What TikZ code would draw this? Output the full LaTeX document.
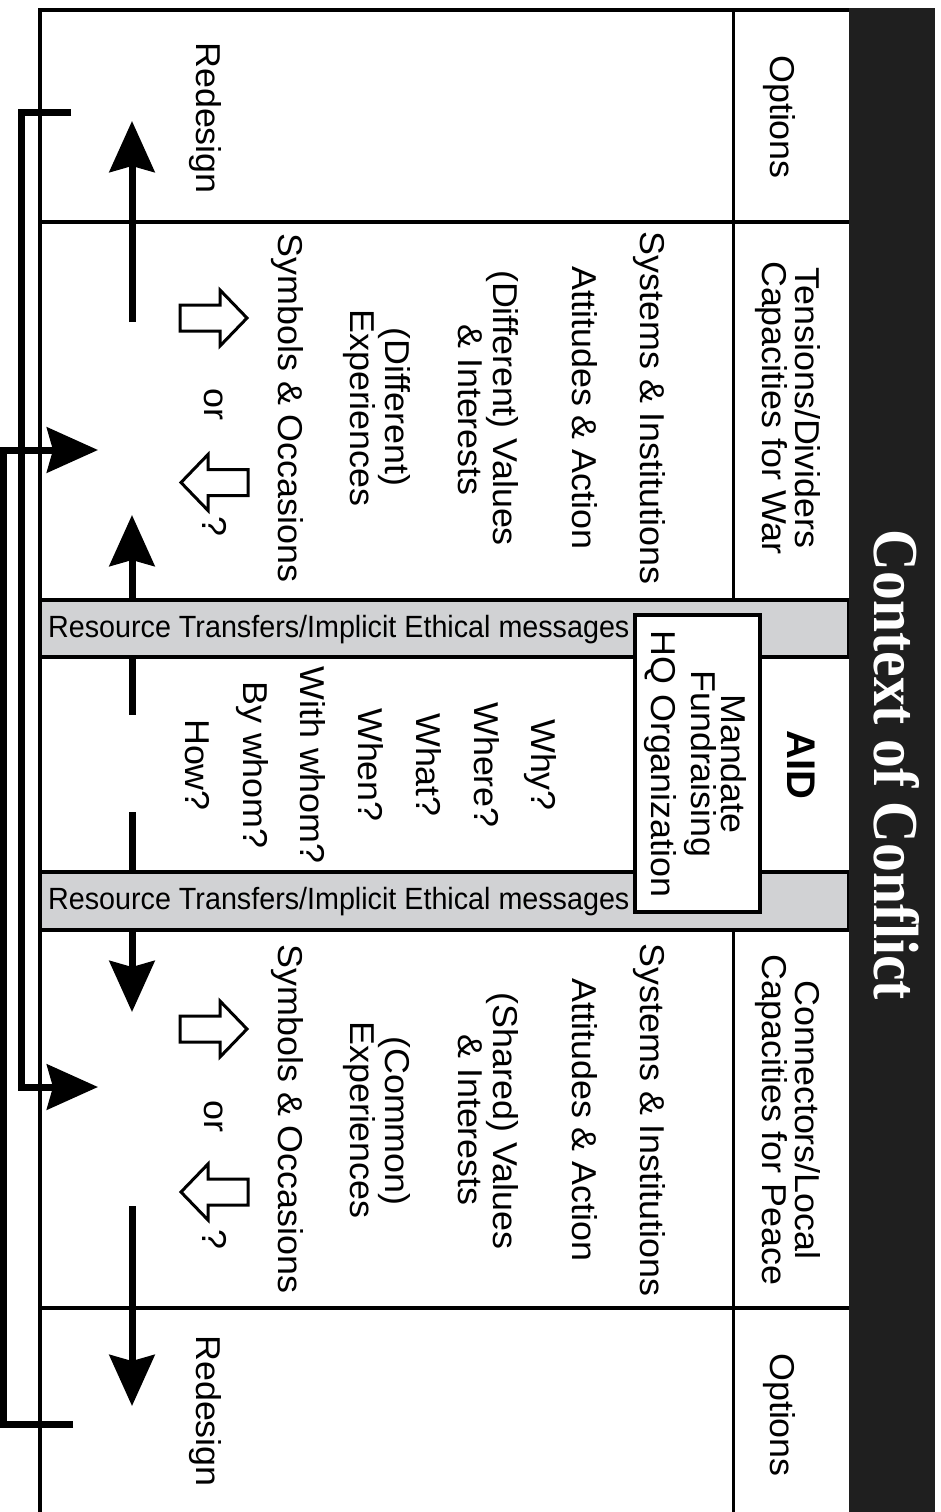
\documentclass[tikz,border=0pt]{standalone}
\usepackage{fontspec}
\setmainfont{Liberation Sans}
\newfontfamily\titlefont{Liberation Serif}[FakeStretch=0.9]
\newfontfamily\lblfont{Liberation Sans}[FakeStretch=1.04]
\newfontfamily\bandfont{Liberation Sans}[FakeStretch=0.935]
\usetikzlibrary{arrows.meta}
\definecolor{bandgray}{HTML}{D1D2D4}
\tikzset{
  lbl/.style={rotate=-90, anchor=base, inner sep=0pt, font=\lblfont\fontsize{34.5}{34}\selectfont},
  framel/.style={line width=3.5pt},
  thinl/.style={line width=3pt},
  bigarrow/.style={line width=7pt, line join=miter, -{Stealth[length=51pt,width=45pt,inset=6pt]}},
  barl/.style={line width=7pt},
  bandtxt/.style={anchor=base west, inner sep=0pt, font=\bandfont\fontsize{30.7}{30}\selectfont},
  hollow/.pic={\draw[line width=3pt, fill=white, line join=miter]
     (-33.5,-13) -- (6.5,-13) -- (6.5,-28) -- (33.5,0) -- (6.5,28) -- (6.5,13) -- (-33.5,13) -- cycle;},
}
\begin{document}
\begin{tikzpicture}[x=1pt,y=-1pt]
\useasboundingbox (0,0) rectangle (941,1512);
\fill[white] (0,0) rectangle (941,1512);

% bands
\draw[framel, fill=bandgray] (40,600) rectangle (849,657);
\draw[framel, fill=bandgray] (40,872) rectangle (849,930);

% frame and grid
\draw[framel] (40,1512) -- (40,10) -- (849,10);
\draw[thinl] (733,10) -- (733,600);
\draw[thinl] (733,930) -- (733,1512);
\draw[framel] (40,222) -- (849,222);
\draw[framel] (40,1308) -- (849,1308);

% black title bar
\fill[black!88] (849,8.25) rectangle (935,1512);
\node[rotate=-90, anchor=base, inner sep=0pt, text=white,
      font=\titlefont\bfseries\fontsize{64}{64}\selectfont] (title) at (874,765) {Context of Conflict};

% band texts
\node[bandtxt] (band1) at (48,637) {Resource Transfers/Implicit Ethical messages};
\node[bandtxt] (band2) at (48,909) {Resource Transfers/Implicit Ethical messages};

% HQ box
\node[draw, line width=3.5pt, fill=white, minimum width=125pt, minimum height=297pt, inner sep=0pt] (hq) at (697.5,763.5) {};
\node[lbl] (mand) at (721,764) {Mandate};
\node[lbl] (fund) at (691,764) {Fundraising};
\node[lbl] (hqo) at (651,764) {HQ Organization};

% AID
\node[rotate=-90, anchor=base, inner sep=0pt, font=\bfseries\fontsize{40}{40}\selectfont] (aid) at (787,765) {AID};

% questions
\node[lbl] (why) at (531,765) {Why?};
\node[lbl] (where) at (474,765) {Where?};
\node[lbl] (what) at (416,765) {What?};
\node[lbl] (when) at (358,765) {When?};
\node[lbl] (withw) at (300,765) {With whom?};
\node[lbl] (byw) at (243,765) {By whom?};
\node[lbl] (how) at (185,765) {How?};

% upper section texts
\node[lbl] (opt1) at (770,117) {Options};
\node[lbl] (red1) at (196,118) {Redesign};
\node[lbl] (ten) at (795,408) {Tensions/Dividers};
\node[lbl] (capw) at (762,408) {Capacities for War};
\node[lbl] (sys1) at (640,408) {Systems \& Institutions};
\node[lbl] (att1) at (572,408) {Attitudes \& Action};
\node[lbl] (val1) at (493,408) {(Different) Values};
\node[lbl] (int1) at (458,410) {\& Interests};
\node[lbl] (dif1) at (385,407) {(Different)};
\node[lbl] (exp1) at (350,408) {Experiences};
\node[lbl] (sym1) at (278,408) {Symbols \& Occasions};
\node[lbl] (or1) at (204,404) {or};
\node[lbl] (qm1) at (202,526) {?};

% lower section texts
\node[lbl] (con) at (795,1120) {Connectors/Local};
\node[lbl] (capp) at (762,1120) {Capacities for Peace};
\node[lbl] (sys2) at (640,1120) {Systems \& Institutions};
\node[lbl] (att2) at (572,1120) {Attitudes \& Action};
\node[lbl] (val2) at (493,1121) {(Shared) Values};
\node[lbl] (int2) at (458,1120) {\& Interests};
\node[lbl] (com2) at (385,1121) {(Common)};
\node[lbl] (exp2) at (350,1120) {Experiences};
\node[lbl] (sym2) at (278,1119) {Symbols \& Occasions};
\node[lbl] (or2) at (204,1116) {or};
\node[lbl] (qm2) at (202,1239) {?};
\node[lbl] (opt2) at (770,1415) {Options};
\node[lbl] (red2) at (196,1411) {Redesign};

% hollow block arrows
\pic at (213.5,318) {hollow};
\pic[xscale=-1] at (214.5,482.5) {hollow};
\pic at (213.5,1029) {hollow};
\pic[xscale=-1] at (214.5,1192) {hollow};

% main vertical arrows
\coordinate (u1s) at (132,322); \coordinate (u1e) at (132,121);
\coordinate (u2s) at (132,600); \coordinate (u2e) at (132,515);
\coordinate (m1s) at (132,658); \coordinate (m1e) at (132,715);
\coordinate (m2s) at (132,812); \coordinate (m2e) at (132,870);
\coordinate (d1s) at (132,930); \coordinate (d1e) at (132,1012);
\coordinate (d2s) at (132,1206); \coordinate (d2e) at (132,1406);
\draw[bigarrow] (u1s) -- (u1e);
\draw[bigarrow] (u2s) -- (u2e);
\draw[barl] (m1s) -- (m1e);
\draw[barl] (m2s) -- (m2e);
\draw[bigarrow] (d1s) -- (d1e);
\draw[bigarrow] (d2s) -- (d2e);

% left feedback brackets
\coordinate (bt1) at (71,112); \coordinate (bt2) at (21,112);
\coordinate (bt3) at (21,1087); \coordinate (bt4) at (98,1087);
\draw[bigarrow] (bt1) -- (bt2) -- (bt3) -- (bt4);
\coordinate (bb1) at (73,1424); \coordinate (bb2) at (3.5,1424);
\coordinate (bb3) at (3.5,450); \coordinate (bb4) at (98,450);
\draw[bigarrow] (bb1) -- (bb2) -- (bb3) -- (bb4);
\end{tikzpicture}
\end{document}
